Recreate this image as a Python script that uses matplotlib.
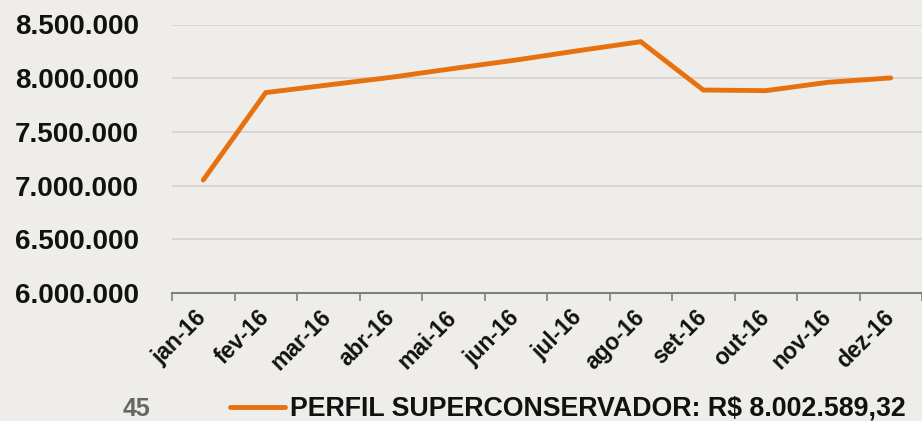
import matplotlib.pyplot as plt
import numpy as np

# Dados
meses = ['jan-16', 'fev-16', 'mar-16', 'abr-16', 'mai-16', 'jun-16',
         'jul-16', 'ago-16', 'set-16', 'out-16', 'nov-16', 'dez-16']
valores = [7052000, 7866000, 7937000, 8008000, 8090000, 8169000,
           8256000, 8340000, 7890000, 7884000, 7962000, 8002589.32]
yticks = [6000000, 6500000, 7000000, 7500000, 8000000, 8500000]
legenda = 'PERFIL SUPERCONSERVADOR: R$ 8.002.589,32'

plt.rcParams['font.family'] = ['Liberation Sans', 'DejaVu Sans']

fundo = '#efede9'
laranja = '#e8710f'

fig = plt.figure(figsize=(9.22, 4.21), dpi=100, facecolor=fundo)
ax = fig.add_axes([172 / 922, 1 - 293 / 421, 750 / 922, (293 - 24.5) / 421])
ax.set_facecolor(fundo)

x = np.arange(len(meses))
linha, = ax.plot(x, valores, color=laranja, lw=3.5, solid_capstyle='round',
                 solid_joinstyle='miter')

ax.set_xlim(-0.5, len(meses) - 0.5)
ax.set_ylim(yticks[0], yticks[-1])

# grade
ax.set_yticks(yticks)
ax.set_yticklabels([f'{v:,.0f}'.replace(',', '.') for v in yticks],
                   fontsize=20, fontweight='bold', color='#111111')
ax.tick_params(axis='y', length=0, pad=24)
ax.grid(axis='y', color='#d4d2ce', lw=1.2)
ax.set_axisbelow(True)

# eixo x: marcas nas divisoes, rotulos no centro
ax.set_xticks(np.arange(-0.5, len(meses), 1))
ax.set_xticklabels([])
ax.tick_params(axis='x', which='major', length=6, width=1.2, color='#808080')
ax.set_xticks(x, minor=True)
ax.set_xticklabels(meses, minor=True, rotation=45, ha='right', va='center',
                   rotation_mode='anchor', fontsize=16.5, fontweight='bold',
                   color='#111111')
ax.tick_params(axis='x', which='minor', length=0, pad=15)

for s in ['top', 'right', 'left']:
    ax.spines[s].set_visible(False)
ax.spines['bottom'].set_color('#808080')
ax.spines['bottom'].set_linewidth(1.5)

# legenda
fig.legend([linha], [legenda], loc='center left', bbox_to_anchor=(230 / 922, 1 - 409 / 421),
           frameon=False, handlelength=2.05, handletextpad=0.2, borderpad=0, borderaxespad=0,
           prop={'weight': 'bold', 'size': 19.3}, labelcolor='#111111')

fig.text(123 / 922, 1 - 409 / 421, '45', fontsize=18, fontweight='bold',
         color='#666666', va='center', ha='left')

fig.savefig('out.png', dpi=100, facecolor=fundo)
